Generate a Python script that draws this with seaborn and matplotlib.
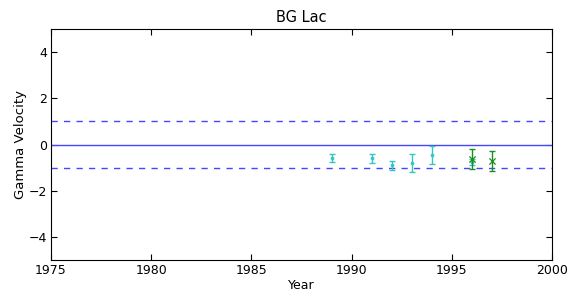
import numpy as np
import pandas as pd
import matplotlib
matplotlib.use("Agg")
import matplotlib.pyplot as plt
import seaborn as sns

# cyan series
years_c = [1989, 1991, 1992, 1993, 1994, 1996]
vel_c = [-0.57, -0.59, -0.90, -0.80, -0.46, -0.76]
err_c = [0.18, 0.19, 0.20, 0.38, 0.40, 0.12]

# green series
years_g = [1996, 1997]
vel_g = [-0.62, -0.71]
err_g = [0.43, 0.42]

ref_levels = [-1, 0, 1]

sns.set_style("ticks")
plt.rcParams['font.family'] = ['DejaVu Sans']
plt.rcParams['xtick.direction'] = 'in'
plt.rcParams['ytick.direction'] = 'in'
plt.rcParams['text.color'] = 'black'
plt.rcParams['axes.labelcolor'] = 'black'
plt.rcParams['xtick.color'] = 'black'
plt.rcParams['ytick.color'] = 'black'
plt.rcParams['axes.edgecolor'] = 'black'

fig = plt.figure(figsize=(5.82, 2.93), dpi=100)
ax = fig.add_axes([0.0876, 0.1126, 0.861, 0.788])

blue = '#4646ff'
ax.axhline(ref_levels[1], color=blue, lw=1, zorder=1)
ax.axhline(ref_levels[0], color=blue, lw=1, ls=(0, (4.5, 4.5)), zorder=1)
ax.axhline(ref_levels[2], color=blue, lw=1, ls=(0, (4.5, 4.5)), zorder=1)

cyan = '#33c6c6'
green = '#1a8f1a'
ax.errorbar(years_c, vel_c, yerr=err_c, fmt='none', ecolor=cyan, elinewidth=1, capsize=2.5, zorder=2)
df_c = pd.DataFrame({'Year': years_c, 'Gamma Velocity': vel_c})
sns.scatterplot(data=df_c, x='Year', y='Gamma Velocity', color=cyan, marker='o', s=7,
                edgecolor=cyan, linewidth=0, ax=ax, zorder=3)

ax.errorbar(years_g, vel_g, yerr=err_g, fmt='none', ecolor=green, elinewidth=1, capsize=2.5, zorder=4)
df_g = pd.DataFrame({'Year': years_g, 'Gamma Velocity': vel_g})
sns.scatterplot(data=df_g, x='Year', y='Gamma Velocity', color=green, marker='x', s=20,
                linewidth=0.9, ax=ax, zorder=5)

ax.set_xlim(1975, 2000)
ax.set_ylim(-5, 5)
ax.set_xticks([1975, 1980, 1985, 1990, 1995, 2000])
ax.set_yticks([-4, -2, 0, 2, 4])
ax.tick_params(top=True, right=True, labelsize=9, length=4, width=0.8, pad=3)
for s in ax.spines.values():
    s.set_linewidth(0.8)
ax.set_xlabel("Year", fontsize=9, labelpad=1)
ax.set_ylabel("Gamma Velocity", fontsize=9.5, labelpad=1)
ax.set_title("BG Lac", fontsize=10.5, pad=5)

fig.savefig("out.png", dpi=100)
